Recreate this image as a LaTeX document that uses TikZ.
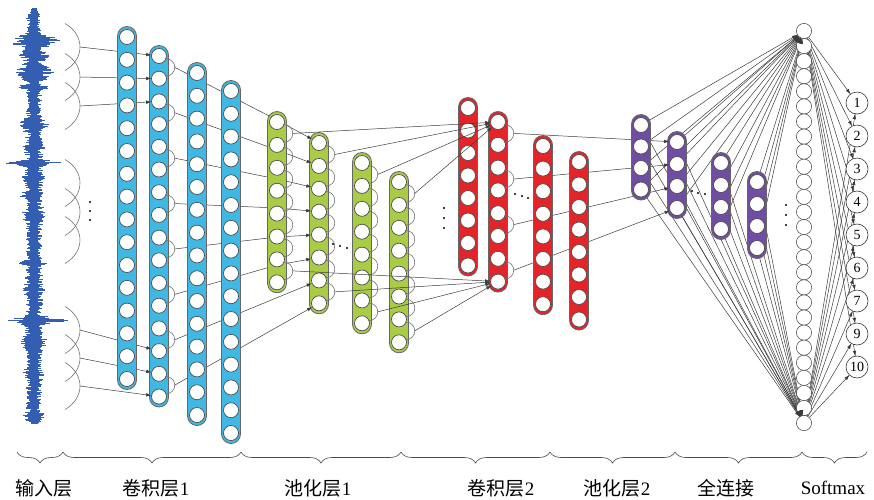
\documentclass[tikz,border=0pt]{standalone}
\usepackage{fontspec}
\setmainfont{Liberation Serif}
\newfontfamily\cjk{Noto Sans CJK SC}
\usetikzlibrary{arrows.meta,calc,decorations.pathreplacing}
\pgfdeclarelayer{bg}
\pgfsetlayers{bg,main}
\definecolor{cyanF}{RGB}{64,184,228}
\definecolor{greenF}{RGB}{168,204,70}
\definecolor{redF}{RGB}{228,36,40}
\definecolor{purpF}{RGB}{112,76,162}
\definecolor{waveC}{RGB}{52,94,178}
\definecolor{lineC}{RGB}{60,60,60}
\tikzset{
  cir/.style={circle,draw=black!70,fill=white,minimum size=15pt,inner sep=0pt,line width=0.7pt},
  fccir/.style={circle,draw=black!75,fill=white,minimum size=15.2pt,inner sep=0pt,line width=0.5pt},
  outcir/.style={circle,draw=black!80,fill=white,minimum size=22pt,inner sep=0pt,line width=0.6pt,font=\fontsize{14}{14}\selectfont},
  capsC/.style={fill=cyanF,draw=black!60,line width=0.8pt,rounded corners=9.5pt},
  capsG/.style={fill=greenF,draw=black!60,line width=0.8pt,rounded corners=9.5pt},
  capsR/.style={fill=redF,draw=black!60,line width=0.8pt,rounded corners=9.5pt},
  capsP/.style={fill=purpF,draw=black!60,line width=0.8pt,rounded corners=9.5pt},
  conn/.style={draw=lineC,line width=0.5pt},
  arcline/.style={draw=black!55,line width=0.6pt},
  arr/.style={conn,-{Latex[length=5pt,width=3.6pt]}},
  dotn/.style={circle,fill=black,inner sep=0pt,minimum size=2.2pt},
  brc/.style={draw=black!70,line width=0.6pt,decorate,decoration={brace,mirror,amplitude=11pt}},
  lab/.style={font=\fontsize{19}{20}\selectfont,anchor=center,inner sep=0pt},
}
\newcommand\mkcol[6]{%
  \pgfmathsetmacro\ctop{#3-10.5}%
  \pgfmathsetmacro\cbot{#3+(#5-1)*#4+10.5}%
  \path[#6] (#2-9.5,\ctop) rectangle (#2+9.5,\cbot);%
  \foreach \i in {1,...,#5}{\node[cir] (#1-\i) at (#2,{#3+(\i-1)*#4}) {};}%
}
\newcommand\bridge[3]{%
  \draw[arcline] ($(#1-#2.center)+(6,2.5)$) .. controls +(13,0) and +(13,0) .. ($(#1-#3.center)+(6,-2.5)$);%
  \coordinate (#1-b#2) at ($(#1-#2.center)!0.5!(#1-#3.center)+(15.75,0)$);%
}
\newcommand\bgarrow[2]{%
  \begin{pgfonlayer}{bg}\draw[conn] (#1) -- (#2);\end{pgfonlayer}%
  \draw[arr] ($(#2.center)!13pt!(#1)$) -- (#2);%
}
\newcommand\wb[2]{max(0,1-abs(\yy-#1)/#2)}
\begin{document}
\begin{tikzpicture}[x=1pt,y=-1pt]
\begin{pgfonlayer}{bg}
\fill[white] (0,0) rectangle (874,499);
\end{pgfonlayer}
\useasboundingbox (0,0) rectangle (874,499);
% waveform
\pgfmathsetseed{11}
\draw[waveC,line width=6pt] (34,9) -- (34,423);
\foreach \yy in {8,8.8,...,424}{
  \pgfmathsetmacro\env{8+22*\wb{41}{9}+10*\wb{55}{7}+15*\wb{72}{11}+9*\wb{87}{4}+10*\wb{125}{9}+4*\wb{147}{12}+22*\wb{163}{4}+6*\wb{178}{10}+10*\wb{195}{5}+5*\wb{215}{12}+10*\wb{263}{4}+3*\wb{290}{22}+23*\wb{321}{6}+7*\wb{342}{14}+3*\wb{372}{14}+5*\wb{417}{7}-5*\wb{8}{10}-4*\wb{424}{8}}
  \pgfmathsetmacro\wl{\env*(0.4+0.6*rnd)}
  \pgfmathsetmacro\wr{\env*(0.4+0.6*rnd)+10*\wb{320}{3}}
  \draw[waveC,line width=1pt] (34-\wl,\yy) -- (34+\wr,\yy);
}
% input arcs
\foreach \k/\cy in {1/47,2/77,3/106,4/183,5/212,6/240,7/330,8/358,9/386}{
  \draw[arcline] (65,\cy-23.5) .. controls (85,\cy-12) and (85,\cy+12) .. (65,\cy+23.5);
  \coordinate (in\k) at (80,\cy);
}
% columns
\mkcol{c1}{127}{37}{22.8}{16}{capsC}
\mkcol{c2}{159}{56}{22.7}{16}{capsC}
\mkcol{c3}{197}{73}{22.8}{16}{capsC}
\mkcol{c4}{231}{91}{22.8}{16}{capsC}
\mkcol{g1}{277}{122}{22.9}{8}{capsG}
\mkcol{g2}{319}{143}{22.9}{8}{capsG}
\mkcol{g3}{362}{163}{22.9}{8}{capsG}
\mkcol{g4}{399}{182}{22.9}{8}{capsG}
\mkcol{r1}{468}{108}{22.5}{8}{capsR}
\mkcol{r2}{498}{122}{22.8}{8}{capsR}
\mkcol{r3}{543}{146}{22.6}{8}{capsR}
\mkcol{r4}{579}{162}{22.5}{8}{capsR}
\mkcol{p1}{641}{125}{21.5}{4}{capsP}
\mkcol{p2}{677}{142}{22}{4}{capsP}
\mkcol{p3}{721}{163}{22}{4}{capsP}
\mkcol{p4}{757}{182}{22}{4}{capsP}
\foreach \i in {1,...,27}{\node[fccir] (fc-\i) at (804,{31+(\i-1)*15.08}) {};}
\foreach \k/\t in {1/1,2/2,3/3,4/4,5/5,6/6,7/7,8/9,9/10}{\node[outcir] (o-\k) at (857,{103+(\k-1)*33}) {\t};}
% bridges
\foreach \a in {1,3,...,15}{\pgfmathtruncatemacro\nb{\a+1}\bridge{c2}{\a}{\nb}}
\foreach \g in {g1,g2,g3,g4}{\foreach \a in {1,...,7}{\pgfmathtruncatemacro\nb{\a+1}\bridge{\g}{\a}{\nb}}}
\foreach \a in {1,3,5,7}{\pgfmathtruncatemacro\nb{\a+1}\bridge{r2}{\a}{\nb}}
% input arrows
\bgarrow{in1}{c2-1}\bgarrow{in2}{c2-2}\bgarrow{in3}{c2-3}
\bgarrow{in7}{c2-14}\bgarrow{in8}{c2-15}\bgarrow{in9}{c2-16}
% conv1 -> pool1
\foreach \k/\a/\yy in {1/1/120,2/3/150,3/5/179,4/7/208,5/9/237,6/11/265}{
  \coordinate (g1p\k) at (277,\yy);
  \begin{pgfonlayer}{bg}\draw[conn] (c2-b\a) -- (g1p\k);\end{pgfonlayer}
  \bgarrow{g1p\k}{g2-\k}
}
\bgarrow{c2-b13}{g2-7}
\bgarrow{c2-b15}{g2-8}
% pool1 -> conv2
\foreach \g in {g1,g2,g3,g4}{\draw[arr] (\g-b1) -- (r2-1); \draw[arr] (\g-b7) -- (r2-8);}
% conv2 -> pool2
\bgarrow{r2-b1}{p2-1}\bgarrow{r2-b3}{p2-2}\bgarrow{r2-b5}{p2-3}\bgarrow{r2-b7}{p2-4}
% pool2 -> fc
\foreach \p in {p1,p2,p3,p4}{\foreach \i in {1,...,4}{\bgarrow{\p-\i}{fc-1}\bgarrow{\p-\i}{fc-27}}}
% fc -> out
\foreach \k in {1,...,9}{\bgarrow{fc-1}{o-\k}\bgarrow{fc-27}{o-\k}}
% dots
\foreach \k/\x/\y in {1/90/202,2/90/211,3/90/220,4/333/244,5/340/246,6/347/248,7/444/208,8/444/218,9/444/228,10/515/194,11/522/196,12/528/198,13/692/191,14/698/193,15/705/194,16/786/205,17/786/215,18/786/225}{\node[dotn] (d\k) at (\x,\y) {};}
% braces
\foreach \a/\nb in {17/63,63/241,241/401,401/550,550/675,675/802,802/867}{\draw[brc] (\a,452) -- (\nb,452);}
% labels
\node[lab] (L1) at (44,488) {\cjk 输入层};
\node[lab] (L2) at (156,488) {{\cjk 卷积层}1};
\node[lab] (L3) at (318,488) {{\cjk 池化层}1};
\node[lab] (L4) at (501,488) {{\cjk 卷积层}2};
\node[lab] (L5) at (617,488) {{\cjk 池化层}2};
\node[lab] (L6) at (726,488) {\cjk 全连接};
\node[lab] (L7) at (833,488) {Softmax};
\end{tikzpicture}
\end{document}
